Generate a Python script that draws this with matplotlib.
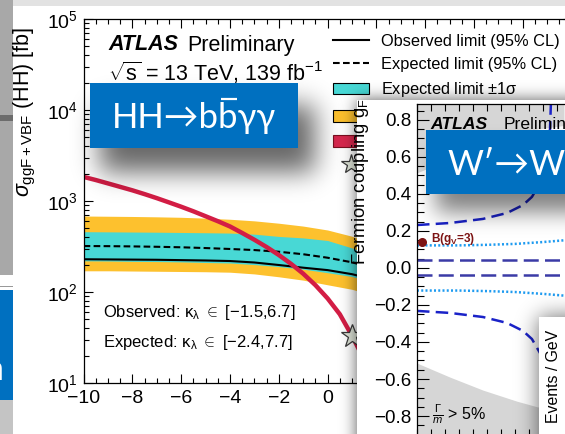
import numpy as np
import matplotlib
matplotlib.use("Agg")
import matplotlib.pyplot as plt
from matplotlib.patches import Rectangle, Patch
from matplotlib.lines import Line2D
from matplotlib.ticker import MultipleLocator, LogLocator, NullFormatter

plt.rcParams["font.family"] = ["Liberation Sans", "DejaVu Sans"]
plt.rcParams["mathtext.fontset"] = "custom"
plt.rcParams["mathtext.rm"] = "Liberation Sans"
plt.rcParams["mathtext.it"] = "Liberation Sans:italic"
plt.rcParams["mathtext.bf"] = "Liberation Sans:bold"

W, H = 565, 434

# HH -> bbyy cross-section limits vs kappa_lambda [fb]
kl_band = [-10, -9, -8, -7, -6, -5, -4, -3, -2, -1, 0, 1, 2]
exp_p2s = [684, 680, 676, 670, 662, 648, 630, 605, 570, 530, 480, 410, 330]
exp_p1s = [460, 458, 456, 454, 451, 448, 444, 432, 408, 393, 368, 305, 245]
exp_lim = [320, 319, 317, 314, 310, 304, 297, 289, 277, 260, 238, 212, 180]
exp_m1s = [220, 219, 217, 216, 214, 211, 208, 200, 190, 178, 163, 148, 125]
obs_lim = [229, 228, 227, 226, 224, 222, 219, 211, 198, 185, 174, 157, 135]
exp_m2s = [171, 171, 170, 169, 168, 167, 165, 158, 147, 135, 120, 107, 90]

# theory prediction
kl_theory = [-10, -9.5, -9, -8.5, -8, -7.5, -7, -6.5, -6, -5.5, -5, -4.5, -4,
             -3.5, -3, -2.5, -2, -1.5, -1, -0.5, 0, 0.5, 1, 1.5]
xs_theory = [1840, 1700, 1560, 1430, 1310, 1190, 1075, 965, 865, 770, 680, 600,
             525, 445, 375, 312, 255, 204, 159, 119, 85, 57, 33, 18]
kl_sm, xs_sm = 1, 33

# W' -> WH coupling plane
gh_excl = [0, 2.36, 4.71, 6.43, 7.57, 8.21, 8.79, 9.21, 9.5, 9.57]
gf_excl = [0.232, 0.243, 0.265, 0.297, 0.34, 0.384, 0.46, 0.6, 0.75, 0.9]
gh_dot = [0, 3, 5, 7, 9, 10.6]
gf_dot = [0.122, 0.122, 0.125, 0.13, 0.14, 0.15]
gf_flat = [0.043, -0.038]
gh_width = [0, 2.36, 4.71, 7.14, 8.57, 10.5]
gf_width = [0.514, 0.59, 0.66, 0.72, 0.75, 0.77]
bench_gh, bench_gf = 0.36, 0.14

BLUE = "#0070c0"


def fig_box(x0, y0, x1, y1):
    return [x0 / W, 1 - y1 / H, (x1 - x0) / W, (y1 - y0) / H]


def fpos(x, y):
    return x / W, 1 - y / H


def overlay(z):
    ax = fig.add_axes([0, 0, 1, 1], zorder=z)
    ax.set_axis_off()
    ax.patch.set_alpha(0)
    return ax


def blur(a, s):
    r = int(3 * s)
    k = np.exp(-0.5 * (np.arange(-r, r + 1) / s) ** 2)
    k /= k.sum()
    a = np.apply_along_axis(np.convolve, 1, a, k, mode="same")
    a = np.apply_along_axis(np.convolve, 0, a, k, mode="same")
    return a


def shadow(ax, x0, y0, x1, y1, sigma, alpha, pad=80):
    xs = np.arange(-pad, W + pad) + 0.5
    ys = np.arange(-pad, H + pad) + 0.5
    m = ((xs[None, :] >= x0) & (xs[None, :] <= x1) &
         (ys[:, None] >= y0) & (ys[:, None] <= y1)).astype(float)
    m = blur(m, sigma)
    img = np.zeros(m.shape + (4,))
    img[..., 3] = np.clip(m * alpha, 0, 1)
    ax.imshow(img, extent=(-pad, W + pad, H + pad, -pad), aspect="auto",
              interpolation="bilinear")
    ax.set_xlim(0, W)
    ax.set_ylim(H, 0)


fig = plt.figure(figsize=(W / 100, H / 100), dpi=100)
fig.patch.set_facecolor("white")

# ---- background strips ----
bg = overlay(0)
bg.set_xlim(0, W)
bg.set_ylim(H, 0)
bg.add_patch(Rectangle((0, 0), W, 6, color="#e2e2e2", lw=0))
bg.add_patch(Rectangle((0, 0), 13, 275, color="#a8a8a8", lw=0))
bg.add_patch(Rectangle((0, 115), 13, 6, color="#6c6c6c", lw=0))
bg.add_patch(Rectangle((0, 286), 13, 1, color="#999999", lw=0))
bg.add_patch(Rectangle((0, 290), 13, 110, color=BLUE, lw=0))
bg.add_patch(Rectangle((0, 400), 13, 34, color="#c4c4c4", lw=0))
bg.text(4, 372, "n", color="white", fontsize=24, ha="right", va="center",
        family=["Open Sans", "DejaVu Sans"])

# ---- HH -> bbyy limit plot ----
ax1 = fig.add_axes(fig_box(83.6, 19, 571.6, 383), zorder=1)
ax1.patch.set_alpha(0)
ax1.set_yscale("log")
ax1.set_xlim(-10, 10)
ax1.set_ylim(10, 1e5)

ax1.fill_between(kl_band, exp_m2s, exp_p2s, color="#fdc12e", lw=0)
ax1.fill_between(kl_band, exp_m1s, exp_p1s, color="#48d8d5", lw=0)
ax1.plot(kl_band, exp_lim, color="black", ls=(0, (3.2, 1.6)), lw=1.5)
ax1.plot(kl_band, obs_lim, color="black", lw=1.5)
ax1.plot(kl_theory, xs_theory, color="#d31d45", lw=3.2, solid_capstyle="butt")
ax1.plot(kl_sm, xs_sm, marker="*", ms=17, mfc="#dfe5d8", mec="#3a3a3a",
         mew=0.9, ls="none", zorder=5)

ax1.xaxis.set_major_locator(MultipleLocator(2))
ax1.xaxis.set_minor_locator(MultipleLocator(0.5))
ax1.yaxis.set_major_locator(LogLocator(base=10))
ax1.yaxis.set_minor_locator(LogLocator(base=10, subs=np.arange(2, 10)))
ax1.yaxis.set_minor_formatter(NullFormatter())
ax1.tick_params(which="both", direction="in", top=True, right=True,
                labelsize=14, width=0.8)
ax1.tick_params(which="major", length=6.5)
ax1.tick_params(which="minor", length=3.5)
ax1.tick_params(axis="x", pad=5)
ax1.tick_params(axis="y", pad=4)
for s in ax1.spines.values():
    s.set_linewidth(0.9)

ax1.set_ylabel(r"$\sigma_{\mathrm{ggF+VBF}}$ (HH) [fb]", fontsize=15.5)
ax1.yaxis.set_label_coords(-0.093, 0.745)

ax1.text(*fpos(108, 45), "ATLAS", transform=fig.transFigure, fontsize=15.5,
         fontweight="bold", fontstyle="italic", va="center")
ax1.text(*fpos(187, 45), "Preliminary", transform=fig.transFigure,
         fontsize=15.5, va="center")
ax1.text(*fpos(108, 73), r"$\sqrt{\mathrm{s}}$ = 13 TeV, 139 fb$^{-1}$",
         transform=fig.transFigure, fontsize=15.5, va="center")
ax1.text(*fpos(103, 313),
         r"Observed: $\mathrm{\kappa}_\mathrm{\lambda}$ $\in$ [$-$1.5,6.7]",
         transform=fig.transFigure, fontsize=12, va="center")
ax1.text(*fpos(103, 342),
         r"Expected: $\mathrm{\kappa}_\mathrm{\lambda}$ $\in$ [$-$2.4,7.7]",
         transform=fig.transFigure, fontsize=12, va="center")

handles = [
    Line2D([], [], color="black", lw=1.5),
    Line2D([], [], color="black", lw=1.5, ls=(0, (3.2, 1.6))),
    Patch(facecolor="#48d8d5", edgecolor="black", lw=0.8),
    Patch(facecolor="#fdc12e", edgecolor="black", lw=0.8),
    Patch(facecolor="#d8284e", edgecolor="#7a1020", lw=0.8),
    Line2D([], [], marker="*", ms=15, mfc="#dfe5d8", mec="#3a3a3a",
           mew=0.9, ls="none"),
]
labels = ["Observed limit (95% CL)", "Expected limit (95% CL)",
          r"Expected limit $\pm1\mathrm{\sigma}$",
          r"Expected limit $\pm2\mathrm{\sigma}$",
          "Theory prediction", "SM prediction"]
ax1.legend(handles, labels, loc="upper left",
           bbox_to_anchor=fpos(333, 34), bbox_transform=fig.transFigure,
           frameon=False, fontsize=11.8, handlelength=2.2, handleheight=0.7,
           handletextpad=0.75, labelspacing=0.5, borderpad=0,
           borderaxespad=0)

# ---- HH label box and second panel ----
ov1 = overlay(2)
shadow(ov1, 100, 105, 315, 172, 13, 0.6)
ov1.add_patch(Rectangle((90, 83), 208, 65, color=BLUE, lw=0))
box_font = dict(color="white", fontsize=25, va="baseline",
                family=["Lato", "DejaVu Sans"])
hh = ov1.text(112, 128, "HH\u2192bb\u03b3\u03b3", **box_font)
rend = fig.canvas.get_renderer()
tmp = ov1.text(112, 128, "HH\u2192b", **box_font)
x_b0 = tmp.get_window_extent(rend).x1
tmp.remove()
tmp = ov1.text(112, 128, "HH\u2192bb", **box_font)
x_b1 = tmp.get_window_extent(rend).x1
tmp.remove()
ov1.plot([x_b0 + 1.5, x_b1 - 1.5], [98.5, 98.5], color="white", lw=1.6,
         solid_capstyle="butt")

shadow(ov1, 357, 100, 640, 520, 8, 0.65)
ov1.add_patch(Rectangle((357, 100), 300, 400, color="white", lw=0))

# ---- W' -> WH coupling plot ----
ax2 = fig.add_axes(fig_box(417, 104, 613, 436), zorder=3)
ax2.patch.set_alpha(0)
ax2.set_xlim(0, 14)
ax2.set_ylim(-0.908, 0.886)

ax2.fill_between(gh_width, gf_width, 1.0, color="#d6d6d6", lw=0)
ax2.fill_between(gh_width, np.negative(gf_width), -1.0, color="#d6d6d6", lw=0)
for g in gf_flat:
    ax2.axhline(g, color="#3b3ba6", lw=1.8, ls=(0, (6, 2.5)))
ax2.plot(gh_dot, gf_dot, color="#1e9bf0", lw=1.8, ls=(0, (0.8, 0.9)))
ax2.plot(gh_dot, np.negative(gf_dot), color="#1e9bf0", lw=1.8,
         ls=(0, (0.8, 0.9)))
ax2.plot(gh_excl, gf_excl, color="#1a22c8", lw=1.8, ls=(0, (5, 2.5)))
ax2.plot(gh_excl, np.negative(gf_excl), color="#1a22c8", lw=1.8,
         ls=(0, (5, 2.5)))
ax2.plot(bench_gh, bench_gf, "o", ms=5.5, color="#7d1414", clip_on=False,
         zorder=6)
ax2.text(1.0, 0.155, r"B(g$_\mathregular{V}$=3)", color="#7d1414",
         fontsize=8.5, fontweight="bold", va="center")
ax2.text(1.1, -0.79, r"$\frac{\Gamma}{m}$ > 5%", fontsize=11.5, va="center")

ax2.text(0.95, 0.775, "ATLAS", fontsize=12.6, fontweight="bold",
         fontstyle="italic", va="center")
ax2.text(6.2, 0.775, "Preliminary", fontsize=12.6, va="center")

ax2.yaxis.set_major_locator(MultipleLocator(0.2))
ax2.yaxis.set_minor_locator(MultipleLocator(0.05))
ax2.xaxis.set_major_locator(MultipleLocator(1))
ax2.tick_params(which="both", direction="in", top=True, right=True,
                labelbottom=False, labelsize=13.5, width=0.8)
ax2.tick_params(axis="y", which="major", length=8.5, pad=4)
ax2.tick_params(axis="y", which="minor", length=5)
ax2.tick_params(axis="x", which="major", length=5)
for s in ax2.spines.values():
    s.set_linewidth(0.9)
ax2.set_ylabel(r"Fermion coupling g$_\mathregular{F}$", fontsize=13.3)
ax2.yaxis.set_label_coords(-0.235, 0.765)

# ---- W' label box and events panel ----
ov2 = overlay(4)
shadow(ov2, 436, 150, 640, 212, 11, 0.5)
ov2.add_patch(Rectangle((426, 130), 200, 64, color=BLUE, lw=0))
ov2.text(447, 175, "W\u2032\u2192WH", **box_font)

shadow(ov2, 539, 317, 640, 520, 11, 0.6)
ov2.add_patch(Rectangle((539, 317), 100, 200, color="white", lw=0))
ov2.text(553, 376, "Events / GeV", rotation=90, fontsize=11.4,
         ha="center", va="center")
ov2.set_xlim(0, W)
ov2.set_ylim(H, 0)

fig.savefig("out.png", dpi=100)
